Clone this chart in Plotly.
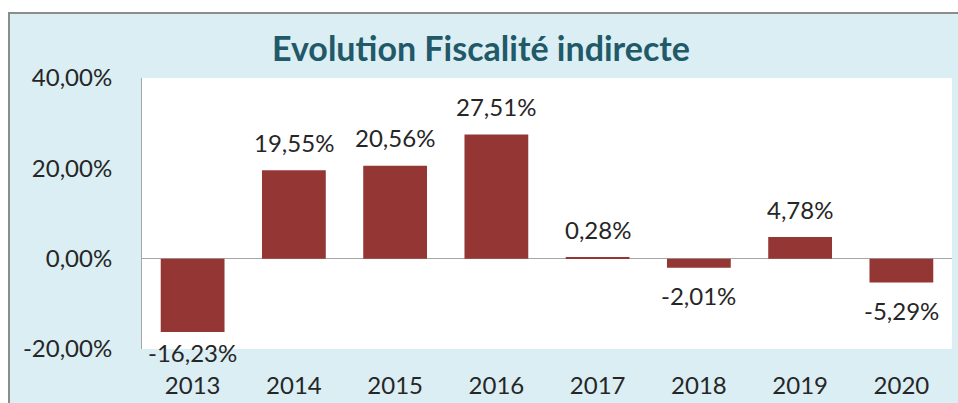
import plotly.graph_objects as go

years = ["2013", "2014", "2015", "2016", "2017", "2018", "2019", "2020"]
values = [-16.23, 19.55, 20.56, 27.51, 0.28, -2.01, 4.78, -5.29]
y_ticks = [-20, 0, 20, 40]
y_tick_text = ["-20,00%", "0,00%", "20,00%", "40,00%"]
title_text = "Evolution Fiscalité indirecte"

W, H = 958, 403
ML, MR, MT, MB = 142, 6, 78, 54
PW, PH = W - ML - MR, H - MT - MB
YMIN, YMAX = -20, 40
PX_PER_UNIT = PH / (YMAX - YMIN)

def px_x(px):  # page pixel -> paper
    return (px - ML) / PW

def px_y(py):
    return (H - MB - py) / PH

def data_to_paper_y(v):
    return (v - YMIN) / (YMAX - YMIN)

BAR = "#943634"
TEXT = "#262626"
BLUE = "#DAEEF3"
FONT = "Lato, Carlito, Calibri, sans-serif"

fig = go.Figure(go.Bar(x=years, y=values, marker=dict(color=BAR, line=dict(width=0)),
                       hoverinfo="skip"))

offset = 28 / PX_PER_UNIT
annotations = []
for i, v in enumerate(values):
    if v >= 0:
        ly = v + offset
    else:
        ly = max(v - offset, YMIN - 3 / PX_PER_UNIT)
    annotations.append(dict(x=i, y=data_to_paper_y(ly), xref="x", yref="paper",
                            showarrow=False,
                            text=f"{v:.2f}%".replace(".", ","),
                            font=dict(family=FONT, size=24, color=TEXT),
                            xanchor="center", yanchor="middle"))

annotations.append(dict(x=px_x(481), y=px_y(47), xref="paper", yref="paper",
                        showarrow=False, text=f"<b>{title_text}</b>",
                        font=dict(family=FONT, size=34, color="#215968"),
                        xanchor="center", yanchor="middle"))

shapes = [
    dict(type="rect", xref="paper", yref="paper", layer="below",
         x0=px_x(9), x1=px_x(975), y0=px_y(13), y1=px_y(420),
         fillcolor=BLUE, line=dict(color="#8C8C8C", width=2)),
    dict(type="rect", xref="paper", yref="paper", layer="below",
         x0=0, x1=1, y0=0, y1=1, fillcolor="white", line=dict(width=0)),
]

fig.update_layout(
    width=W, height=H,
    margin=dict(l=ML, r=MR, t=MT, b=MB, pad=0, autoexpand=False),
    paper_bgcolor="white", plot_bgcolor="white",
    separators=", ",
    bargap=0.37,
    showlegend=False,
    annotations=annotations,
    shapes=shapes,
    font=dict(family=FONT, size=24, color=TEXT),
    xaxis=dict(type="category", range=[-0.5, len(years) - 0.5],
               showgrid=False, showline=False, ticks="", zeroline=False,
               tickfont=dict(family=FONT, size=24, color=TEXT), automargin=False,
               ticklabelstandoff=20, fixedrange=True),
    yaxis=dict(range=[YMIN, YMAX], tickvals=y_ticks, ticktext=y_tick_text,
               showgrid=False, showline=True, linecolor="#A6A6A6", linewidth=1,
               zeroline=True, zerolinecolor="#A6A6A6", zerolinewidth=1, automargin=False,
               ticks="", tickfont=dict(family=FONT, size=24, color=TEXT),
               ticklabelstandoff=24, fixedrange=True),
)

fig.write_html("out.html", config={"displayModeBar": False},
               post_script="document.body.style.margin='0';"
                           "document.documentElement.style.overflow='hidden';")
